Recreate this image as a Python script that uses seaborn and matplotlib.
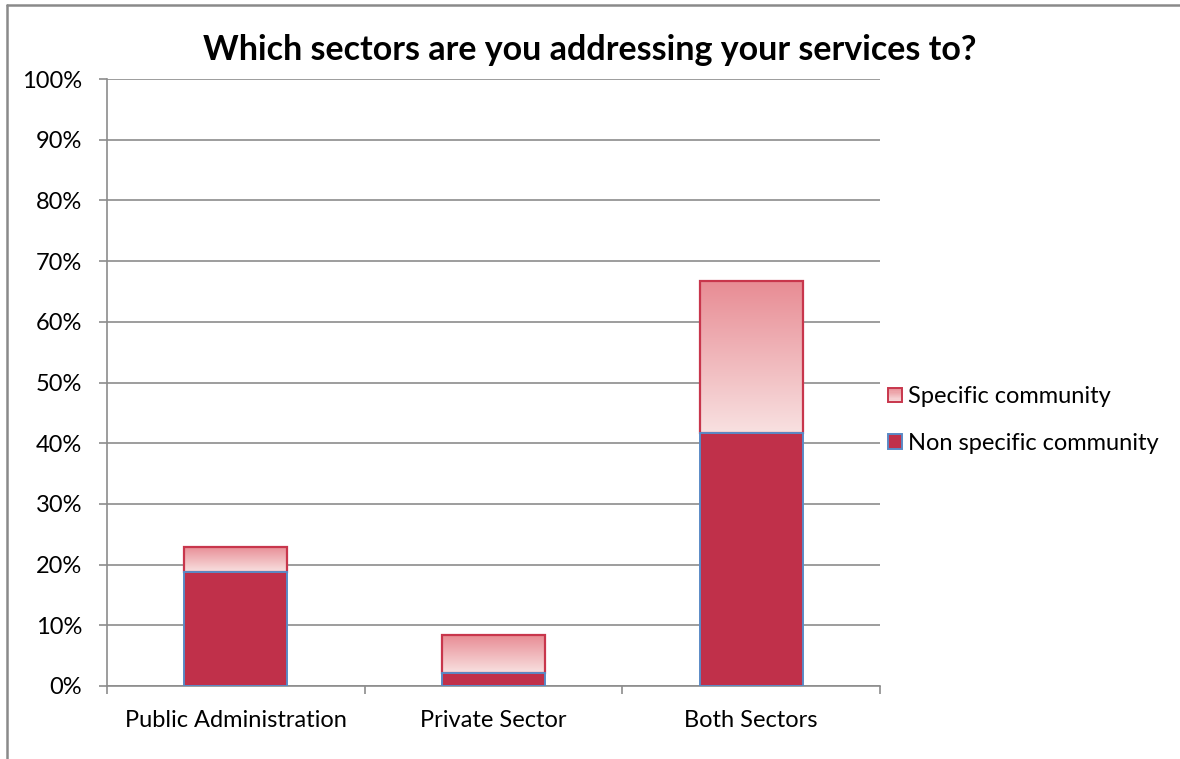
import numpy as np
import pandas as pd
import matplotlib
matplotlib.use("Agg")
import matplotlib.pyplot as plt
from matplotlib.patches import Rectangle
from matplotlib.lines import Line2D
from matplotlib.legend_handler import HandlerBase
from matplotlib.colors import LinearSegmentedColormap
import seaborn as sns

# Survey shares (percent of respondents)
sectors = ["Public Administration", "Private Sector", "Both Sectors"]
non_specific = [18.75, 2.08, 41.67]
specific = [4.17, 6.25, 25.0]
y_ticks = [0, 10, 20, 30, 40, 50, 60, 70, 80, 90, 100]
title = "Which sectors are you addressing your services to?"
series_names = ["Specific community", "Non specific community"]

totals = [a + b for a, b in zip(non_specific, specific)]
df = pd.DataFrame({"sector": sectors, "non_specific": non_specific,
                   "specific": specific, "total": totals})

sns.set_theme(style="white")
plt.rcParams["font.family"] = ["Lato", "DejaVu Sans"]

DARK_RED = "#C0304A"
EDGE_RED = "#C8364C"
EDGE_BLUE = "#5A8AC6"
GRID = "#8C8C8C"
LABEL_SIZE = 17
grad_cmap = LinearSegmentedColormap.from_list("pinkfade", ["#F8E1E1", "#E88C94"])

fig = plt.figure(figsize=(11.8, 7.59), dpi=100)
ax = fig.add_axes([107 / 1180, 1 - 686 / 759, (880 - 107) / 1180, (686 - 79) / 759])

# Upper segment (specific community), drawn from the totals and then
# trimmed to start where the lower segment ends
sns.barplot(data=df, x="sector", y="total", color="#F0B8BC", width=0.4,
            saturation=1, ax=ax, zorder=3)
spec_patches = list(ax.patches)
for p, base, h in zip(spec_patches, non_specific, specific):
    p.set_y(base)
    p.set_height(h)
    p.set_facecolor("none")
    p.set_edgecolor(EDGE_RED)
    p.set_linewidth(1.6)
    p.set_zorder(5)
    x0 = p.get_x()
    w = p.get_width()
    grad = np.linspace(0, 1, 256).reshape(-1, 1)
    ax.imshow(grad, cmap=grad_cmap, origin="lower", aspect="auto",
              extent=[x0, x0 + w, base, base + h], zorder=4,
              interpolation="bilinear")

# Lower segment (non specific community)
sns.barplot(data=df, x="sector", y="non_specific", color=DARK_RED, width=0.4,
            saturation=1, ax=ax, zorder=3)
for p in ax.patches[len(spec_patches):]:
    p.set_facecolor(DARK_RED)
    p.set_edgecolor(EDGE_BLUE)
    p.set_linewidth(1.4)
    p.set_zorder(6)

ax.set_xlim(-0.5, 2.5)
ax.set_ylim(0, 100)
ax.set_yticks(y_ticks)
ax.set_yticklabels([f"{t}%" for t in y_ticks])
ax.set_xlabel("")
ax.set_ylabel("")
ax.yaxis.grid(True, color=GRID, linewidth=1.2, zorder=0)
ax.set_axisbelow(True)
for s in ["top", "right"]:
    ax.spines[s].set_visible(False)
for s in ["left", "bottom"]:
    ax.spines[s].set_color(GRID)
    ax.spines[s].set_linewidth(1.2)

# category labels centred, ticks between categories
ax.set_xticks([0, 1, 2])
ax.set_xticklabels(sectors)
ax.set_xticks([-0.5, 0.5, 1.5, 2.5], minor=True)
ax.tick_params(axis="x", which="major", length=0, pad=17, labelsize=LABEL_SIZE,
               colors="#000000")
ax.tick_params(axis="x", which="minor", bottom=True, length=6, width=1.2,
               color=GRID)
ax.tick_params(axis="y", left=True, length=6, width=1.2, color=GRID,
               labelsize=LABEL_SIZE, pad=12, labelcolor="#000000")

fig.text(0.5, 1 - 50 / 759, title, ha="center", va="center",
         fontsize=24.5, fontweight="bold", color="#000000")


class GradientSquare:
    pass


class HandlerGradient(HandlerBase):
    def create_artists(self, legend, orig_handle, xdescent, ydescent,
                       width, height, fontsize, trans):
        artists = []
        n = 12
        size = min(width, height)
        x0 = -xdescent + (width - size) / 2
        y0 = -ydescent + (height - size) / 2
        for i in range(n):
            c = grad_cmap(1 - (i + 0.5) / n)
            artists.append(Rectangle((x0, y0 + size - (i + 1) * size / n), size,
                                     size / n, facecolor=c, edgecolor="none",
                                     transform=trans))
        artists.append(Rectangle((x0, y0), size, size, facecolor="none",
                                 edgecolor=EDGE_RED, linewidth=1.4,
                                 transform=trans))
        return artists


class HandlerSquare(HandlerBase):
    def create_artists(self, legend, orig_handle, xdescent, ydescent,
                       width, height, fontsize, trans):
        size = min(width, height)
        x0 = -xdescent + (width - size) / 2
        y0 = -ydescent + (height - size) / 2
        return [Rectangle((x0, y0), size, size, facecolor=DARK_RED,
                          edgecolor=EDGE_BLUE, linewidth=1.4, transform=trans)]


h_spec = GradientSquare()
h_non = Rectangle((0, 0), 1, 1)
leg = fig.legend([h_spec, h_non], series_names,
                 handler_map={GradientSquare: HandlerGradient(),
                              Rectangle: HandlerSquare()},
                 loc="center left", bbox_to_anchor=(888 / 1180, 1 - 420 / 759),
                 frameon=False, fontsize=LABEL_SIZE, labelspacing=1.08,
                 handlelength=0.6, handleheight=0.6, handletextpad=0.25,
                 borderaxespad=0, borderpad=0)
for t in leg.get_texts():
    t.set_color("#000000")

# outer chart frame
fig.add_artist(Line2D([7 / 1180, 7 / 1180], [0, 1 - 5 / 759],
                      transform=fig.transFigure, color="#8A8A8A", linewidth=1.8))
fig.add_artist(Line2D([7 / 1180, 1], [1 - 5 / 759, 1 - 5 / 759],
                      transform=fig.transFigure, color="#8A8A8A", linewidth=1.8))

fig.savefig("out.png", dpi=100, facecolor="white")
